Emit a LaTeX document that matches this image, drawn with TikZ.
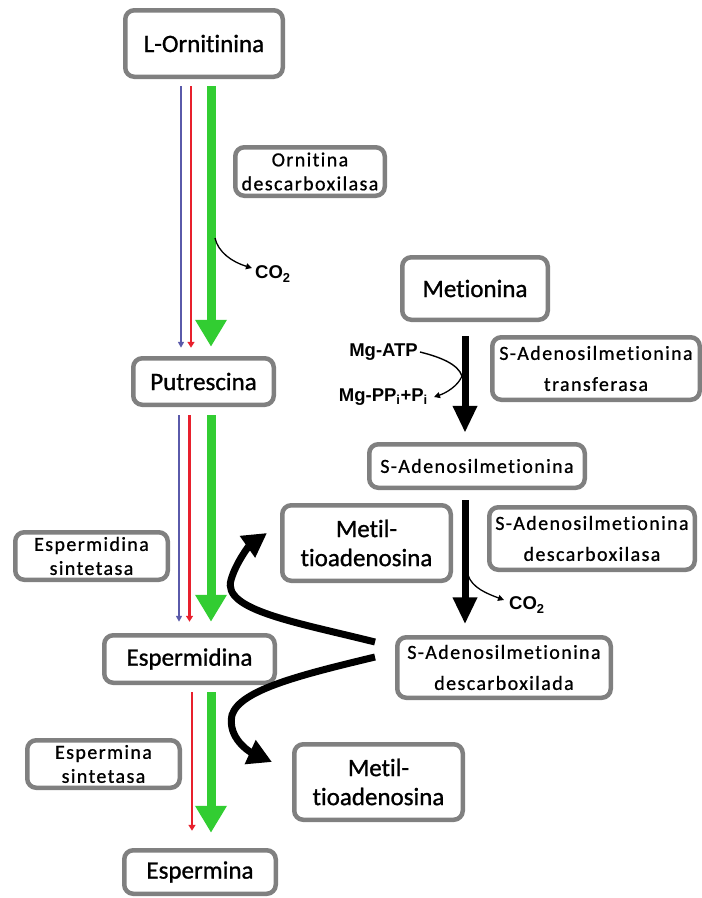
\documentclass[tikz,border=0pt]{standalone}
\usepackage{fontspec}
\setmainfont{Carlito}[Ligatures=NoCommon]
\newfontfamily\arialb{Liberation Sans}
\usetikzlibrary{arrows.meta,calc}
\definecolor{boxgray}{RGB}{128,128,128}
\definecolor{pblue}{RGB}{90,90,170}
\definecolor{pred}{RGB}{232,32,45}
\definecolor{pgreen}{RGB}{50,205,50}
\tikzset{
  box/.style={draw=boxgray, line width=4.5pt, rounded corners=9pt, fill=white, inner sep=0pt, align=center},
  cmp/.style={box, font=\fontsize{25}{29}\selectfont\addfontfeature{FakeBold=1}},
  enz/.style={box, font=\fontsize{20}{24}\selectfont\addfontfeature{LetterSpace=7,FakeBold=0.8}},
  enzw/.style={box, font=\fontsize{20}{31}\selectfont\addfontfeature{LetterSpace=7,FakeBold=0.8}},
  rxn/.style={inner sep=0pt, font=\arialb\bfseries\fontsize{18.5}{20}\selectfont},
  garr/.style={draw=pgreen, line width=9pt, -{Triangle[width=30pt,length=27pt]}},
  barr/.style={draw=pblue, line width=1.8pt, -{Triangle[width=6pt,length=6pt]}},
  rarr/.style={draw=pred, line width=2.2pt, -{Triangle[width=7pt,length=6pt]}},
  karr/.style={draw=black, line width=7pt, -{Triangle[width=23pt,length=27pt]}},
  carr/.style={draw=black, line width=7pt, -{Triangle[width=25pt,length=24pt]}},
  tarr/.style={draw=black, line width=1.3pt, -{Triangle[width=6pt,length=6pt]}},
}
\begin{document}
\begin{tikzpicture}[x=1pt,y=-1pt]
\useasboundingbox (0,0) rectangle (702,898);
% compound boxes
\node[cmp, minimum width=157.5, minimum height=66.5] (orn) at (204,43.5) {L-Ornitinina};
\node[cmp, minimum width=140.5, minimum height=46.5] (put) at (203.5,381.5) {Putrescina};
\node[cmp, minimum width=170.5, minimum height=47.5] (spd) at (189.5,659) {Espermidina};
\node[cmp, minimum width=151.5, minimum height=43.5] (spm) at (200,872) {Espermina};
\node[cmp, minimum width=145.5, minimum height=62.5] (met) at (475,288.5) {Metionina};
\node[cmp, minimum width=168.5, minimum height=75.5] (mta1) at (366.5,543) {Metil-\\tioadenosina};
\node[cmp, minimum width=168.5, minimum height=75.5] (mta2) at (378.5,782) {Metil-\\tioadenosina};
% enzyme / other boxes
\node[enz, minimum width=149.5, minimum height=48.5] (odc) at (310,171.5) {Ornitina\\descarboxilasa};
\node[enzw, minimum width=207.5, minimum height=62.5] (sat) at (596,368.5) {S-Adenosilmetionina\\transferasa};
\node[enz, minimum width=215.5, minimum height=43.5] (sam) at (477,466) {S-Adenosilmetionina};
\node[enzw, minimum width=205.5, minimum height=62.5] (samdc) at (592,538.5) {S-Adenosilmetionina\\descarboxilasa};
\node[enz, minimum width=152.5, minimum height=47.5] (spds) at (91.5,556) {Espermidina\\sintetasa};
\node[enzw, minimum width=213.5, minimum height=60.5] (dcsam) at (504,667.5) {S-Adenosilmetionina\\descarboxilada};
\node[enz, minimum width=152.5, minimum height=47.5] (sms) at (103.5,764) {Espermina\\sintetasa};
% side labels
\node[rxn, anchor=west] (co2a) at (255,274) {CO\textsubscript{2}};
\node[rxn, anchor=west] (co2b) at (509,605) {CO\textsubscript{2}};
\node[rxn, anchor=east] (mgatp) at (418,352) {Mg-ATP};
\node[rxn, anchor=east] (mgpp) at (428,397) {Mg-PP\textsubscript{i}+P\textsubscript{i}};
% orn -> put
\draw[barr] ($(orn.south)+(-23,7.25)$) -- ($(put.north)+(-22.5,-8.25)$);
\draw[rarr] ($(orn.south)+(-13,7.25)$) -- ($(put.north)+(-12.5,-8.25)$);
\draw[garr] ($(orn.south)+(7,7.25)$) -- ($(put.north)+(7.5,-9.25)$);
% put -> spd
\draw[barr] ($(put.south)+(-24.5,8.25)$) -- ($(spd.north)+(-10.5,-11.25)$);
\draw[rarr] ($(put.south)+(-14,8.25)$) -- ($(spd.north)+(0,-11.25)$);
\draw[garr] ($(put.south)+(7.5,8.25)$) -- ($(spd.north)+(21.5,-11.25)$);
% spd -> spm
\draw[rarr] ($(spd.south)+(2.5,7.25)$) -- ($(spm.north)+(-8,-17.25)$);
\draw[garr] ($(spd.south)+(21.5,7.25)$) -- ($(spm.north)+(11,-15.25)$);
% CO2 release from ornithine decarboxylation
\coordinate (g1) at (215,238);
\draw[tarr] (g1) .. controls (218,252) and (232,262) .. ($(co2a.west)+(-3,-6)$);
% metionina -> SAM
\draw[karr] ($(met.south)+(-10,14.25)$) -- ($(sam.north)+(-12,-9.25)$);
\coordinate (mj) at (462,376);
\draw[line width=1.4pt] ($(mgatp.east)+(2,0)$) .. controls (440,357) and (458,364) .. (mj);
\draw[tarr] (mj) .. controls (458,386) and (446,393) .. ($(mgpp.east)+(6,0)$);
% SAM -> dcSAM
\draw[karr] ($(sam.south)+(-12,10.25)$) -- ($(dcsam.north)+(-39,-10.75)$);
\coordinate (g2) at (468,575);
\draw[tarr] (g2) .. controls (472,588) and (488,594) .. ($(co2b.west)+(-5,-5)$);
% dcSAM -> MTA
\coordinate (s1) at ($(dcsam.west)+(-20,-25.5)$);
\coordinate (s2) at ($(dcsam.west)+(-20,-10.5)$);
\draw[carr] (s1) .. controls (295,622) and (222,610) .. (231,580) .. controls (236,562) and (250,545) .. ($(mta1.west)+(-13,-10)$);
\draw[carr] (s2) .. controls (300,675) and (240,690) .. (232,715) .. controls (227,738) and (250,752) .. ($(mta2.west)+(-20,-20)$);
\end{tikzpicture}
\end{document}
